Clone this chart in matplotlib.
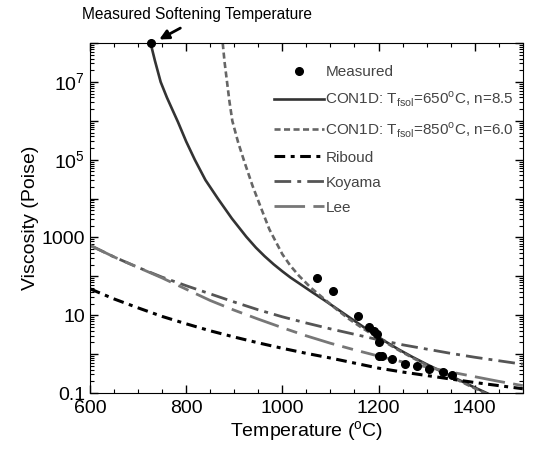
import numpy as np
import matplotlib.pyplot as plt
from matplotlib.ticker import FixedLocator, LogLocator, MultipleLocator, NullFormatter

plt.rcParams['font.family'] = ['Liberation Sans', 'DejaVu Sans']
plt.rcParams['mathtext.fontset'] = 'custom'
plt.rcParams['mathtext.rm'] = 'Liberation Sans'

# measured viscosity (log10 of Poise)
meas_T = [726, 1073, 1106, 1157, 1181, 1190, 1196, 1200, 1202, 1208,
          1227, 1255, 1280, 1305, 1335, 1352]
meas_log = [8.0, 1.95, 1.62, 0.97, 0.70, 0.60, 0.52, 0.31, -0.05, -0.05,
            -0.12, -0.25, -0.31, -0.39, -0.46, -0.53]

# CON1D, Tfsol = 650 C, n = 8.5
con650_T = [726, 735, 747, 760, 772, 783, 800, 818, 840, 866, 895, 925, 945, 963,
            982, 1000, 1017, 1035, 1060, 1087, 1113, 1139, 1165, 1191, 1215, 1242,
            1270, 1300, 1330, 1360, 1395, 1430]
con650_log = [8.0, 7.55, 7.0, 6.6, 6.27, 5.97, 5.47, 5.0, 4.48, 4.0, 3.49, 3.02, 2.74,
              2.52, 2.31, 2.13, 1.97, 1.82, 1.61, 1.39, 1.17, 0.95, 0.73, 0.51, 0.32,
              0.12, -0.07, -0.26, -0.44, -0.62, -0.83, -1.03]

# CON1D, Tfsol = 850 C, n = 6.0
con850_T = [876, 880, 885, 890, 896, 908, 921, 938, 956, 973, 1000, 1017, 1035,
            1060, 1087, 1113, 1139, 1165, 1191, 1215, 1242, 1270, 1300, 1330,
            1360, 1395, 1430]
con850_log = [8.0, 7.5, 7.0, 6.5, 6.0, 5.45, 4.95, 4.33, 3.75, 3.21, 2.57, 2.27, 2.01,
              1.70, 1.42, 1.15, 0.90, 0.68, 0.48, 0.30, 0.10, -0.09, -0.28, -0.46,
              -0.64, -0.85, -1.05]

riboud_T = [600, 650, 700, 750, 800, 850, 900, 950, 1000, 1050, 1100, 1150,
            1200, 1250, 1300, 1350, 1400, 1450, 1500]
riboud_log = [1.68, 1.42, 1.19, 0.97, 0.78, 0.60, 0.44, 0.29, 0.15, 0.02, -0.10, -0.23,
              -0.36, -0.46, -0.55, -0.64, -0.73, -0.81, -0.89]

koyama_T = [600, 650, 700, 750, 800, 850, 900, 950, 1000, 1050, 1100, 1150,
            1200, 1250, 1300, 1350, 1400, 1450, 1500]
koyama_log = [2.80, 2.50, 2.23, 1.98, 1.76, 1.55, 1.34, 1.14, 0.96, 0.80, 0.65, 0.51,
              0.37, 0.24, 0.13, 0.02, -0.08, -0.17, -0.26]

lee_T = [600, 650, 700, 750, 800, 850, 900, 950, 1000, 1050, 1100, 1150,
         1200, 1250, 1300, 1350, 1400, 1450, 1500]
lee_log = [2.80, 2.50, 2.23, 1.96, 1.67, 1.38, 1.13, 0.90, 0.68, 0.47, 0.28, 0.11,
           -0.05, -0.20, -0.33, -0.46, -0.58, -0.70, -0.81]


def visc(log_values):
    return np.power(10.0, np.array(log_values))


fig = plt.figure(figsize=(5.34, 4.49), dpi=100)
ax = fig.add_axes([0.1685, 0.1247, 0.8105, 0.7793])

ax.plot(meas_T, visc(meas_log), 'o', color='black', markersize=5.5,
        clip_on=False, zorder=5, label='Measured')
ax.plot(con650_T, visc(con650_log), '-', color='#333333', lw=1.9,
        label=r'CON1D: T$_{\rm fsol}$=650$^{\rm o}$C, n=8.5')
ax.plot(con850_T, visc(con850_log), color='#666666', lw=1.9, dashes=(2.3, 1.3),
        label=r'CON1D: T$_{\rm fsol}$=850$^{\rm o}$C, n=6.0')
ax.plot(riboud_T, visc(riboud_log), color='black', lw=2.2, dashes=(3.5, 1.8, 1.3, 1.8),
        label='Riboud')
ax.plot(koyama_T, visc(koyama_log), color='#555555', lw=2, dashes=(6, 2.2, 1.4, 2.2),
        label='Koyama')
ax.plot(lee_T, visc(lee_log), color='#777777', lw=2, dashes=(11, 3, 4, 3),
        label='Lee')

ax.set_yscale('log')
ax.set_xlim(600, 1500)
ax.set_ylim(0.1, 1e8)

ax.xaxis.set_major_locator(MultipleLocator(200))
ax.xaxis.set_minor_locator(MultipleLocator(50))
ax.yaxis.set_major_locator(FixedLocator([10.0 ** k for k in range(-1, 9)]))
ax.yaxis.set_minor_locator(LogLocator(base=10, subs=np.arange(2, 10), numticks=20))
ax.yaxis.set_minor_formatter(NullFormatter())
ylabels = {-1: '0.1', 1: '10', 3: '1000', 5: r'10$^5$', 7: r'10$^7$'}
ax.set_yticklabels([ylabels.get(k, '') for k in range(-1, 9)])

ax.tick_params(which='both', direction='in', top=True, right=True, labelsize=14)
ax.tick_params(which='major', length=6, width=1)
ax.tick_params(which='minor', length=3, width=0.8)
ax.tick_params(axis='x', pad=5)

ax.set_xlabel(r'Temperature ($^{\rm o}$C)', fontsize=14, labelpad=2)
ax.set_ylabel('Viscosity (Poise)', fontsize=14, labelpad=2)

ax.legend(loc='upper left', bbox_to_anchor=(0.41, 0.955), frameon=False,
          fontsize=11, handlelength=3.3, handletextpad=0.1, labelspacing=0.72,
          labelcolor='#444444', borderaxespad=0)

ax.text(0.154, 0.968, 'Measured Softening Temperature', transform=fig.transFigure,
        fontsize=11.2, ha='left', va='center')
ax.annotate('', xy=(739, 10 ** 8.06), xytext=(793, 10 ** 8.42),
            arrowprops=dict(arrowstyle='-|>', color='black', lw=2, mutation_scale=14),
            annotation_clip=False)

fig.savefig('out.png', dpi=100)
